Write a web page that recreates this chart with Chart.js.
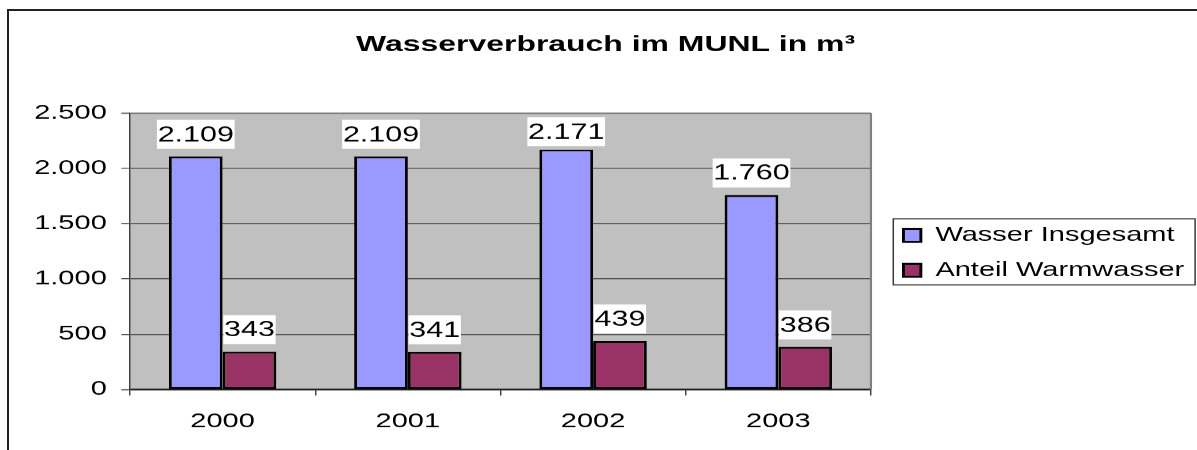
<!DOCTYPE html>
<html>
<head>
<meta charset="utf-8">
<script src="https://cdn.jsdelivr.net/npm/chart.js@4"></script>
<style>
  html, body { margin: 0; padding: 0; background: #fff; overflow: hidden; width: 1197px; height: 450px; }
  #wrap { position: absolute; left: 0; top: 0; width: 825px; height: 450px; transform: scaleX(1.4509); transform-origin: 0 0; }
  #frame { position: absolute; left: 7px; top: 9px; width: 1300px; height: 600px; border: 2px solid #222; }
</style>
</head>
<body>
<div id="frame"></div>
<div id="wrap"><canvas id="chart" width="825" height="450"></canvas></div>
<script>
const years = ["2000", "2001", "2002", "2003"];
const wasserInsgesamt = [2109, 2109, 2171, 1760];
const anteilWarmwasser = [343, 341, 439, 386];
const yTicks = [0, 500, 1000, 1500, 2000, 2500];
const seriesNames = ["Wasser Insgesamt", "Anteil Warmwasser"];

const FONT = '"Liberation Sans", Arial, sans-serif';
Chart.defaults.font.family = FONT;
Chart.defaults.color = "#000";

// german thousand separator
function fmt(v) {
    return String(v).replace(/\B(?=(\d{3})+(?!\d))/g, ".");
}

const plotBg = {
    id: "plotBg",
    beforeDraw(chart) {
        const { ctx, chartArea: a } = chart;
        ctx.save();
        ctx.fillStyle = "#C0C0C0";
        ctx.fillRect(a.left, a.top, a.right - a.left, a.bottom - a.top);
        ctx.restore();
    },
    afterLayout(chart) {
        // legend sits a bit away from the plot, centred on the plot height
        chart.legend.left += 7.4;
        chart.legend.right += 7.4;
        chart.legend.top += 27.5;
        chart.legend.bottom += 27.5;
        // title is a little right of the page centre
        chart.titleBlock.left += 8;
        chart.titleBlock.right += 8;
    },
    afterDatasetsDraw(chart) {
        const { ctx, chartArea: a } = chart;
        ctx.save();
        ctx.strokeStyle = "#808080";
        ctx.lineWidth = 1.5;
        ctx.beginPath();
        ctx.moveTo(a.right, a.top);
        ctx.lineTo(a.right, a.bottom);
        ctx.stroke();

        ctx.font = "21px " + FONT;
        ctx.textAlign = "center";
        ctx.textBaseline = "middle";
        chart.data.datasets.forEach((ds, di) => {
            chart.getDatasetMeta(di).data.forEach((bar, i) => {
                const text = fmt(ds.data[i]);
                const w = ctx.measureText(text).width + 1;
                const cy = Math.max(bar.y - 22, a.top + 18.5);
                ctx.fillStyle = "#fff";
                ctx.fillRect(bar.x - w / 2, cy - 14.5, w, 29);
                ctx.fillStyle = "#000";
                ctx.fillText(text, bar.x, cy + 1);
            });
        });
        ctx.restore();
    },
    afterDraw(chart) {
        const lg = chart.legend;
        const pad = lg.options.labels.padding;
        const col = lg.columnSizes[0];
        const x0 = lg.left + pad;
        const y0 = (lg.top + pad + lg.bottom - col.height) / 2;
        const ctx = chart.ctx;
        ctx.save();
        ctx.strokeStyle = "#333";
        ctx.lineWidth = 1;
        ctx.strokeRect(x0 - 7, y0 - 6.5, col.width + 14.5, col.height - pad + 11);
        ctx.restore();
    }
};

new Chart(document.getElementById("chart").getContext("2d"), {
    type: "bar",
    data: {
        labels: years,
        datasets: [
            {
                label: seriesNames[0],
                data: wasserInsgesamt,
                backgroundColor: "#9999FF",
                borderColor: "#000",
                borderWidth: 2,
                borderSkipped: false,
                categoryPercentage: 0.58,
                barPercentage: 1.0
            },
            {
                label: seriesNames[1],
                data: anteilWarmwasser,
                backgroundColor: "#993366",
                borderColor: "#000",
                borderWidth: 2,
                borderSkipped: false,
                categoryPercentage: 0.58,
                barPercentage: 1.0
            }
        ]
    },
    options: {
        responsive: false,
        devicePixelRatio: 1.4509,
        animation: false,
        layout: { padding: { top: 0, left: 0, right: 6.2, bottom: 0 } },
        plugins: {
            title: {
                display: true,
                text: "Wasserverbrauch im MUNL in m³",
                color: "#000",
                font: { size: 22, weight: "bold", family: FONT },
                padding: { top: 32, bottom: 54.6 }
            },
            legend: {
                position: "right",
                maxWidth: 240,
                labels: {
                    boxWidth: 12,
                    boxHeight: 13,
                    padding: 15,
                    color: "#000",
                    font: { size: 20, family: FONT }
                }
            },
            tooltip: { enabled: false }
        },
        scales: {
            x: {
                offset: true,
                grid: { offset: true, drawOnChartArea: false, drawTicks: true, tickLength: 6, color: "#404040" },
                border: { display: true, color: "#202020", width: 1.5 },
                ticks: { padding: 14, font: { size: 20 }, color: "#000" },
                afterFit: s => { s.height = 61; }
            },
            y: {
                min: 0,
                max: 2500,
                afterBuildTicks: s => { s.ticks = yTicks.map(v => ({ value: v })); },
                grid: {
                    drawTicks: true,
                    tickLength: 6,
                    color: c => (c.tick && c.tick.value === 2500 ? "#808080" : "#505050"),
                    lineWidth: c => (c.tick && c.tick.value === 2500 ? 1.5 : 1)
                },
                border: { display: true, color: "#404040", width: 1 },
                ticks: { padding: 10, font: { size: 20 }, color: "#000", callback: v => fmt(v) },
                afterFit: s => { s.width = 89.6; }
            }
        }
    },
    plugins: [plotBg]
});
</script>
</body>
</html>
